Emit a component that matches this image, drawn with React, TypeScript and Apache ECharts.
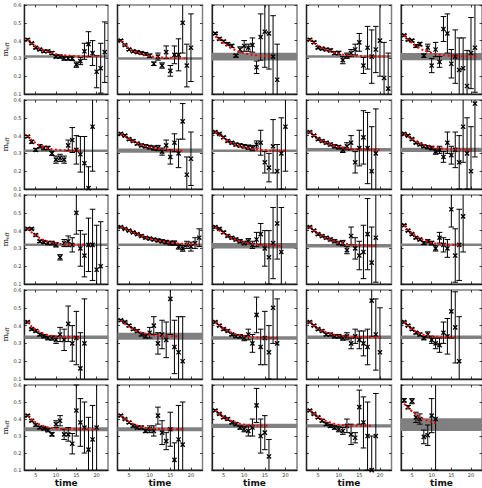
import React, { useEffect, useRef } from "react";
import * as echarts from "echarts";

const T_START = 3;
const X_MIN = 2.2;
const X_MAX = 22.8;
const X_TICKS = [5, 10, 15, 20];
const Y_TICKS = [0.1, 0.2, 0.3, 0.4, 0.5, 0.6];

// ---- row 0 ----
const p00Val = [0.405, 0.385, 0.36, 0.35, 0.34, 0.34, 0.33, 0.31, 0.31, 0.30, 0.30, 0.30, 0.265, 0.285, 0.34, 0.38, 0.33, 0.225, 0.245, 0.335];
const p00Err = [0.005, 0.005, 0.006, 0.006, 0.006, 0.007, 0.008, 0.008, 0.009, 0.01, 0.01, 0.012, 0.015, 0.02, 0.045, 0.07, 0.07, 0.09, 0.14, 0.17];
const p00Fit = [0.405, 0.385, 0.368, 0.355, 0.345, 0.337, 0.33, 0.325, 0.321, 0.318, 0.316, 0.314, 0.313, 0.312, 0.311, 0.311, 0.31, 0.31, 0.31];
const p00Band = [0.31, 0.004];

const p01Val = [0.40, 0.375, 0.35, 0.34, 0.335, 0.33, 0.325, 0.315, 0.27, 0.31, 0.26, 0.335, 0.23, 0.32, 0.32, 0.50, 0.26, 0.36];
const p01Err = [0.005, 0.005, 0.006, 0.006, 0.007, 0.007, 0.008, 0.01, 0.01, 0.02, 0.015, 0.035, 0.03, 0.05, 0.09, 0.17, 0.12, 0.19];
const p01Fit = [0.40, 0.375, 0.356, 0.342, 0.332, 0.324, 0.318, 0.313, 0.31, 0.307, 0.305, 0.304, 0.303, 0.302, 0.301, 0.301, 0.30];
const p01Band = [0.30, 0.004];

const p02Val = [0.44, 0.41, 0.395, 0.38, 0.37, 0.315, 0.35, 0.37, 0.36, 0.375, 0.25, 0.42, 0.45, 0.44, 0.31, 0.18];
const p02Err = [0.005, 0.006, 0.007, 0.008, 0.009, 0.008, 0.015, 0.03, 0.02, 0.04, 0.035, 0.13, 0.2, 0.2, 0.23, 0.2];
const p02Fit = [0.425, 0.405, 0.385, 0.37, 0.356, 0.345, 0.336, 0.329, 0.324, 0.32, 0.317, 0.315, 0.314, 0.313, 0.312];
const p02Band = [0.31, 0.022];

const p03Val = [0.405, 0.39, 0.36, 0.355, 0.35, 0.345, 0.33, 0.33, 0.29, 0.315, 0.33, 0.35, 0.39, 0.26, 0.36, 0.31, 0.35, 0.40, 0.19, 0.13];
const p03Err = [0.005, 0.006, 0.006, 0.007, 0.007, 0.008, 0.009, 0.01, 0.02, 0.015, 0.02, 0.03, 0.05, 0.045, 0.12, 0.15, 0.13, 0.2, 0.2, 0.2];
const p03Fit = [0.405, 0.385, 0.37, 0.358, 0.348, 0.34, 0.333, 0.327, 0.322, 0.319, 0.316, 0.314, 0.313, 0.312, 0.311, 0.31, 0.31, 0.31, 0.31, 0.31];
const p03Band = [0.31, 0.004];

const p04Val = [0.43, 0.405, 0.40, 0.37, 0.38, 0.315, 0.36, 0.26, 0.35, 0.28, 0.465, 0.44, 0.27, 0.31, 0.235, 0.245, 0.145, 0.33, 0.36];
const p04Err = [0.005, 0.006, 0.007, 0.008, 0.01, 0.01, 0.02, 0.04, 0.04, 0.03, 0.07, 0.11, 0.08, 0.15, 0.18, 0.17, 0.2, 0.2, 0.25];
const p04Fit = [0.43, 0.405, 0.385, 0.368, 0.355, 0.345, 0.337, 0.33, 0.325, 0.321, 0.318, 0.316, 0.315, 0.314, 0.313, 0.312, 0.312, 0.311, 0.311, 0.311];
const p04Band = [0.31, 0.02];

// ---- row 1 ----
const p10Val = [0.395, 0.365, 0.32, 0.34, 0.33, 0.33, 0.30, 0.265, 0.275, 0.265, 0.345, 0.375, 0.32, 0.295, 0.245, 0.105, 0.45];
const p10Err = [0.006, 0.008, 0.008, 0.01, 0.01, 0.01, 0.012, 0.02, 0.02, 0.02, 0.03, 0.07, 0.08, 0.1, 0.15, 0.12, 0.25];
const p10Fit = [0.40, 0.375, 0.358, 0.345, 0.336, 0.329, 0.324, 0.321, 0.319, 0.317, 0.316, 0.316, 0.315, 0.315];
const p10Band = [0.315, 0.004];

const p11Val = [0.41, 0.40, 0.38, 0.37, 0.355, 0.345, 0.34, 0.335, 0.33, 0.33, 0.31, 0.345, 0.28, 0.36, 0.30, 0.48, 0.18, 0.27];
const p11Err = [0.005, 0.005, 0.006, 0.006, 0.007, 0.008, 0.009, 0.01, 0.012, 0.015, 0.02, 0.03, 0.04, 0.05, 0.08, 0.1, 0.1, 0.15];
const p11Fit = [0.41, 0.395, 0.38, 0.368, 0.357, 0.348, 0.341, 0.335, 0.33, 0.326, 0.323, 0.321, 0.319, 0.318, 0.317, 0.316];
const p11Band = [0.315, 0.012];

const p12Val = [0.42, 0.41, 0.39, 0.37, 0.36, 0.35, 0.345, 0.34, 0.335, 0.33, 0.35, 0.36, 0.25, 0.22, 0.34, 0.20, 0.30, 0.45];
const p12Err = [0.005, 0.005, 0.006, 0.006, 0.007, 0.008, 0.009, 0.01, 0.012, 0.015, 0.02, 0.07, 0.06, 0.08, 0.15, 0.15, 0.2, 0.25];
const p12Fit = [0.42, 0.40, 0.385, 0.37, 0.358, 0.348, 0.34, 0.334, 0.329, 0.325, 0.322, 0.32, 0.318, 0.317, 0.316, 0.316, 0.315, 0.315];
const p12Band = [0.315, 0.006];

const p13Val = [0.42, 0.40, 0.38, 0.37, 0.36, 0.35, 0.34, 0.335, 0.32, 0.34, 0.36, 0.25, 0.33, 0.39, 0.33, 0.20, 0.30];
const p13Err = [0.005, 0.005, 0.006, 0.006, 0.007, 0.008, 0.009, 0.01, 0.015, 0.02, 0.04, 0.06, 0.1, 0.15, 0.2, 0.25, 0.25];
const p13Fit = [0.42, 0.40, 0.385, 0.37, 0.36, 0.35, 0.343, 0.337, 0.332, 0.329, 0.326, 0.324, 0.323, 0.322, 0.321, 0.32, 0.32, 0.32];
const p13Band = [0.32, 0.01];

const p14Val = [0.41, 0.40, 0.38, 0.36, 0.35, 0.34, 0.335, 0.33, 0.31, 0.32, 0.28, 0.36, 0.29, 0.32, 0.25, 0.45, 0.30, 0.20, 0.58];
const p14Err = [0.005, 0.005, 0.006, 0.006, 0.007, 0.008, 0.009, 0.01, 0.015, 0.02, 0.03, 0.06, 0.05, 0.1, 0.15, 0.2, 0.2, 0.25, 0.3];
const p14Fit = [0.41, 0.395, 0.38, 0.367, 0.356, 0.347, 0.34, 0.335, 0.331, 0.328, 0.326, 0.324, 0.323, 0.322, 0.321, 0.32, 0.32, 0.32];
const p14Band = [0.32, 0.012];

// ---- row 2 ----
const p20Val = [0.41, 0.41, 0.375, 0.34, 0.335, 0.33, 0.33, 0.32, 0.25, 0.33, 0.34, 0.32, 0.50, 0.30, 0.26, 0.32, 0.32, 0.18, 0.20];
const p20Err = [0.005, 0.005, 0.006, 0.007, 0.008, 0.009, 0.01, 0.012, 0.015, 0.02, 0.03, 0.04, 0.12, 0.1, 0.12, 0.15, 0.2, 0.25, 0.25];
const p20Fit = [0.41, 0.39, 0.372, 0.358, 0.347, 0.339, 0.333, 0.329, 0.326, 0.324, 0.322, 0.321, 0.32, 0.32, 0.32];
const p20Band = [0.32, 0.004];

const p21Val = [0.42, 0.41, 0.40, 0.39, 0.38, 0.37, 0.36, 0.355, 0.35, 0.345, 0.34, 0.335, 0.33, 0.33, 0.31, 0.30, 0.32, 0.31, 0.33, 0.36];
const p21Err = [0.004, 0.004, 0.005, 0.005, 0.005, 0.006, 0.006, 0.007, 0.007, 0.008, 0.009, 0.01, 0.011, 0.012, 0.014, 0.016, 0.02, 0.025, 0.03, 0.05];
const p21Fit = [0.42, 0.41, 0.40, 0.39, 0.38, 0.37, 0.362, 0.355, 0.349, 0.344, 0.34, 0.336, 0.333, 0.33, 0.328, 0.326, 0.325, 0.323, 0.322, 0.321];
const p21Band = [0.32, 0.003];

const p22Val = [0.42, 0.41, 0.39, 0.37, 0.36, 0.35, 0.34, 0.33, 0.34, 0.32, 0.35, 0.38, 0.30, 0.25, 0.33, 0.44, 0.28];
const p22Err = [0.005, 0.005, 0.006, 0.006, 0.007, 0.008, 0.009, 0.01, 0.015, 0.02, 0.04, 0.06, 0.1, 0.15, 0.2, 0.2, 0.25];
const p22Fit = [0.42, 0.40, 0.385, 0.37, 0.358, 0.348, 0.34, 0.334, 0.329, 0.325, 0.322, 0.32, 0.318, 0.317, 0.316, 0.315, 0.315];
const p22Band = [0.315, 0.015];

const p23Val = [0.42, 0.40, 0.38, 0.37, 0.36, 0.35, 0.34, 0.33, 0.33, 0.29, 0.37, 0.30, 0.26, 0.28, 0.38, 0.22, 0.36];
const p23Err = [0.005, 0.005, 0.006, 0.006, 0.007, 0.008, 0.009, 0.01, 0.015, 0.02, 0.05, 0.06, 0.08, 0.15, 0.2, 0.2, 0.25];
const p23Fit = [0.42, 0.40, 0.385, 0.37, 0.358, 0.348, 0.34, 0.334, 0.329, 0.325, 0.322, 0.32, 0.318, 0.317, 0.316, 0.315, 0.315];
const p23Band = [0.315, 0.01];

const p24Val = [0.43, 0.40, 0.38, 0.36, 0.35, 0.33, 0.34, 0.33, 0.30, 0.36, 0.32, 0.30, 0.52, 0.26, 0.32, 0.48];
const p24Err = [0.005, 0.005, 0.006, 0.006, 0.007, 0.008, 0.009, 0.01, 0.015, 0.03, 0.04, 0.05, 0.1, 0.15, 0.2, 0.2];
const p24Fit = [0.43, 0.405, 0.385, 0.368, 0.355, 0.345, 0.337, 0.331, 0.327, 0.324, 0.322, 0.321, 0.32, 0.32, 0.32];
const p24Band = [0.32, 0.004];

// ---- row 3 ----
const p30Val = [0.42, 0.38, 0.37, 0.35, 0.34, 0.33, 0.33, 0.32, 0.35, 0.32, 0.41, 0.30, 0.33, 0.16, 0.30];
const p30Err = [0.005, 0.006, 0.007, 0.008, 0.009, 0.01, 0.012, 0.02, 0.04, 0.06, 0.1, 0.1, 0.15, 0.2, 0.25];
const p30Fit = [0.42, 0.395, 0.377, 0.364, 0.354, 0.347, 0.342, 0.339, 0.337, 0.336, 0.335, 0.335, 0.335, 0.335];
const p30Band = [0.335, 0.01];

const p31Val = [0.43, 0.42, 0.40, 0.38, 0.37, 0.35, 0.34, 0.36, 0.40, 0.30, 0.35, 0.32, 0.55, 0.28, 0.25, 0.20];
const p31Err = [0.005, 0.005, 0.006, 0.006, 0.007, 0.008, 0.01, 0.03, 0.05, 0.06, 0.08, 0.1, 0.2, 0.15, 0.2, 0.25];
const p31Fit = [0.43, 0.41, 0.393, 0.379, 0.368, 0.36, 0.354, 0.349, 0.346, 0.344, 0.342, 0.341, 0.341, 0.34, 0.34];
const p31Band = [0.34, 0.02];

const p32Val = [0.42, 0.40, 0.38, 0.37, 0.35, 0.34, 0.34, 0.33, 0.35, 0.30, 0.46, 0.28, 0.33, 0.25, 0.50, 0.30];
const p32Err = [0.005, 0.005, 0.006, 0.006, 0.007, 0.008, 0.01, 0.015, 0.03, 0.05, 0.1, 0.1, 0.15, 0.15, 0.2, 0.25];
const p32Fit = [0.42, 0.40, 0.384, 0.371, 0.36, 0.352, 0.346, 0.341, 0.338, 0.335, 0.333, 0.332, 0.331, 0.33, 0.33, 0.33];
const p32Band = [0.33, 0.01];

const p33Val = [0.42, 0.40, 0.38, 0.37, 0.35, 0.35, 0.34, 0.34, 0.33, 0.34, 0.30, 0.34, 0.32, 0.30, 0.28, 0.54, 0.35, 0.25];
const p33Err = [0.005, 0.005, 0.006, 0.006, 0.007, 0.008, 0.009, 0.01, 0.012, 0.02, 0.03, 0.04, 0.05, 0.07, 0.1, 0.2, 0.2, 0.25];
const p33Fit = [0.42, 0.40, 0.385, 0.372, 0.362, 0.354, 0.348, 0.344, 0.341, 0.339, 0.337, 0.336, 0.336, 0.335, 0.335, 0.335, 0.335, 0.335];
const p33Band = [0.335, 0.01];

const p34Val = [0.42, 0.40, 0.38, 0.36, 0.35, 0.33, 0.35, 0.32, 0.30, 0.29, 0.36, 0.34, 0.48, 0.39, 0.20];
const p34Err = [0.005, 0.005, 0.006, 0.007, 0.008, 0.01, 0.015, 0.02, 0.03, 0.04, 0.06, 0.1, 0.15, 0.2, 0.25];
const p34Fit = [0.42, 0.398, 0.38, 0.366, 0.356, 0.348, 0.343, 0.34, 0.338, 0.336, 0.336, 0.335, 0.335, 0.335];
const p34Band = [0.335, 0.01];

// ---- row 4 ----
const p40Val = [0.42, 0.39, 0.365, 0.35, 0.345, 0.335, 0.31, 0.37, 0.39, 0.31, 0.31, 0.255, 0.45, 0.38, 0.35, 0.22, 0.28, 0.35];
const p40Err = [0.005, 0.006, 0.007, 0.008, 0.009, 0.01, 0.01, 0.02, 0.03, 0.03, 0.04, 0.06, 0.15, 0.14, 0.15, 0.19, 0.2, 0.5];
const p40Fit = [0.42, 0.398, 0.38, 0.367, 0.358, 0.351, 0.347, 0.344, 0.342, 0.341, 0.34, 0.34, 0.34, 0.34, 0.34, 0.34, 0.34, 0.34];
const p40Band = [0.34, 0.012];

const p41Val = [0.42, 0.40, 0.38, 0.36, 0.35, 0.35, 0.33, 0.34, 0.33, 0.42, 0.32, 0.27, 0.34, 0.16, 0.28, 0.25];
const p41Err = [0.005, 0.005, 0.006, 0.007, 0.008, 0.009, 0.01, 0.02, 0.03, 0.05, 0.07, 0.05, 0.1, 0.1, 0.2, 0.25];
const p41Fit = [0.42, 0.40, 0.384, 0.371, 0.361, 0.354, 0.349, 0.345, 0.343, 0.342, 0.341, 0.34, 0.34, 0.34, 0.34, 0.34];
const p41Band = [0.34, 0.012];

const p42Val = [0.45, 0.43, 0.41, 0.40, 0.38, 0.37, 0.35, 0.34, 0.33, 0.35, 0.48, 0.30, 0.32, 0.18];
const p42Err = [0.005, 0.005, 0.006, 0.007, 0.008, 0.009, 0.01, 0.015, 0.03, 0.05, 0.1, 0.1, 0.1, 0.1];
const p42Fit = [0.45, 0.43, 0.413, 0.399, 0.388, 0.379, 0.372, 0.367, 0.364, 0.362, 0.361, 0.36, 0.36, 0.36];
const p42Band = [0.36, 0.012];

const p43Val = [0.45, 0.43, 0.41, 0.39, 0.37, 0.36, 0.35, 0.34, 0.33, 0.36, 0.31, 0.29, 0.47, 0.38, 0.30, 0.10, 0.30];
const p43Err = [0.005, 0.005, 0.006, 0.007, 0.008, 0.009, 0.01, 0.015, 0.02, 0.04, 0.06, 0.03, 0.1, 0.15, 0.2, 0.2, 0.25];
const p43Fit = [0.45, 0.43, 0.413, 0.399, 0.388, 0.379, 0.372, 0.367, 0.364, 0.362, 0.361, 0.36, 0.36, 0.36, 0.36, 0.36];
const p43Band = [0.36, 0.01];

const p44Val = [0.51, 0.47, 0.505, 0.41, 0.40, 0.295, 0.305, 0.42, 0.40];
const p44Err = [0.01, 0.01, 0.015, 0.03, 0.03, 0.04, 0.06, 0.1, 0.3];
const p44Fit = [0.49, 0.465, 0.445, 0.427, 0.412, 0.40, 0.39, 0.382, 0.375];
const p44Band = [0.367, 0.037];

const PANELS = [
  { val: p00Val, err: p00Err, fit: p00Fit, band: p00Band },
  { val: p01Val, err: p01Err, fit: p01Fit, band: p01Band },
  { val: p02Val, err: p02Err, fit: p02Fit, band: p02Band },
  { val: p03Val, err: p03Err, fit: p03Fit, band: p03Band },
  { val: p04Val, err: p04Err, fit: p04Fit, band: p04Band },
  { val: p10Val, err: p10Err, fit: p10Fit, band: p10Band },
  { val: p11Val, err: p11Err, fit: p11Fit, band: p11Band },
  { val: p12Val, err: p12Err, fit: p12Fit, band: p12Band },
  { val: p13Val, err: p13Err, fit: p13Fit, band: p13Band },
  { val: p14Val, err: p14Err, fit: p14Fit, band: p14Band },
  { val: p20Val, err: p20Err, fit: p20Fit, band: p20Band },
  { val: p21Val, err: p21Err, fit: p21Fit, band: p21Band },
  { val: p22Val, err: p22Err, fit: p22Fit, band: p22Band },
  { val: p23Val, err: p23Err, fit: p23Fit, band: p23Band },
  { val: p24Val, err: p24Err, fit: p24Fit, band: p24Band },
  { val: p30Val, err: p30Err, fit: p30Fit, band: p30Band },
  { val: p31Val, err: p31Err, fit: p31Fit, band: p31Band },
  { val: p32Val, err: p32Err, fit: p32Fit, band: p32Band },
  { val: p33Val, err: p33Err, fit: p33Fit, band: p33Band },
  { val: p34Val, err: p34Err, fit: p34Fit, band: p34Band },
  { val: p40Val, err: p40Err, fit: p40Fit, band: p40Band },
  { val: p41Val, err: p41Err, fit: p41Fit, band: p41Band },
  { val: p42Val, err: p42Err, fit: p42Fit, band: p42Band },
  { val: p43Val, err: p43Err, fit: p43Fit, band: p43Band },
  { val: p44Val, err: p44Err, fit: p44Fit, band: p44Band },
];

function renderBand(params: any, api: any) {
  const cs = params.coordSys;
  const c = api.value(0);
  const h = api.value(1);
  const y1 = api.coord([X_MIN, c + h])[1];
  const y2 = api.coord([X_MIN, c - h])[1];
  let top = Math.max(Math.min(y1, y2), cs.y);
  let hh = Math.abs(y2 - y1);
  if (hh < 2.5) {
    top = (y1 + y2) / 2 - 1.25;
    hh = 2.5;
  }
  return {
    type: "rect",
    shape: { x: cs.x, y: top, width: cs.width, height: hh },
    style: { fill: "#808080" },
    silent: true,
  };
}

function renderPoint(params: any, api: any) {
  const cs = params.coordSys;
  const t = api.value(0);
  const v = api.value(1);
  const e = api.value(2);
  const p = api.coord([t, v]);
  const yHi = api.coord([t, v + e])[1];
  const yLo = api.coord([t, v - e])[1];
  const top = cs.y;
  const bot = cs.y + cs.height;
  const x = p[0];
  const children: any[] = [];
  const st = { stroke: "#000", lineWidth: 1 };
  const a = Math.max(yHi, top);
  const b = Math.min(yLo, bot);
  if (b > a) {
    children.push({ type: "line", shape: { x1: x, y1: a, x2: x, y2: b }, style: st });
  }
  const cw = 2.8;
  if (yHi >= top && yHi <= bot) {
    children.push({ type: "line", shape: { x1: x - cw, y1: yHi, x2: x + cw, y2: yHi }, style: st });
  }
  if (yLo <= bot && yLo >= top) {
    children.push({ type: "line", shape: { x1: x - cw, y1: yLo, x2: x + cw, y2: yLo }, style: st });
  }
  if (p[1] >= top && p[1] <= bot) {
    const s = 2.1;
    const ms = { stroke: "#000", lineWidth: 1.3 };
    children.push({ type: "line", shape: { x1: x - s, y1: p[1] - s, x2: x + s, y2: p[1] + s }, style: ms });
    children.push({ type: "line", shape: { x1: x - s, y1: p[1] + s, x2: x + s, y2: p[1] - s }, style: ms });
  }
  return { type: "group", children, silent: true };
}

export default function App() {
  const ref = useRef<HTMLDivElement>(null);
  useEffect(() => {
    if (!ref.current) return;
    const chart = echarts.init(ref.current, null, { renderer: "svg" });
    const grid: any[] = [];
    const xAxis: any[] = [];
    const yAxis: any[] = [];
    const series: any[] = [];
    PANELS.forEach((pnl, k) => {
      const row = Math.floor(k / 5);
      const col = k % 5;
      grid.push({
        left: 23 + col * 94.5,
        top: 5 + row * 95,
        width: 85,
        height: 89,
        show: true,
        borderColor: "#808080",
        borderWidth: 1.5,
        backgroundColor: "transparent",
      });
      const tickStyle = { color: "#111", width: 0.8 };
      xAxis.push({
        gridIndex: k,
        type: "value",
        min: X_MIN,
        max: X_MAX,
        position: "bottom",
        axisLine: { show: true, onZero: false, lineStyle: { color: "#222", width: 1.3 } },
        axisTick: { show: true, inside: true, length: 2.5, customValues: X_TICKS, lineStyle: tickStyle },
        axisLabel: { show: row === 4, customValues: X_TICKS, fontSize: 5, color: "#333", margin: 2, fontFamily: "DejaVu Sans" },
        splitLine: { show: false },
        name: row === 4 ? "time" : "",
        nameLocation: "middle",
        nameGap: 6,
        nameTextStyle: { fontWeight: "bold", fontSize: 9, fontFamily: "DejaVu Sans", color: "#111" },
      });
      xAxis.push({
        gridIndex: k,
        type: "value",
        min: X_MIN,
        max: X_MAX,
        position: "top",
        axisLine: { show: false },
        axisTick: { show: true, inside: true, length: 2.5, customValues: X_TICKS, lineStyle: tickStyle },
        axisLabel: { show: false },
        splitLine: { show: false },
      });
      yAxis.push({
        gridIndex: k,
        type: "value",
        min: 0.1,
        max: 0.6,
        position: "left",
        axisLine: { show: true, onZero: false, lineStyle: { color: "#222", width: 1.3 } },
        axisTick: { show: true, inside: true, length: 2.5, customValues: Y_TICKS, lineStyle: tickStyle },
        axisLabel: {
          show: col === 0,
          customValues: Y_TICKS,
          fontSize: 5,
          color: "#333",
          margin: 3,
          fontFamily: "DejaVu Sans",
          formatter: (v: number) => v.toFixed(1),
        },
        splitLine: { show: false },
        name: col === 0 ? "{m|m}{s|eff}" : "",
        nameLocation: "middle",
        nameGap: 12,
        nameRotate: 90,
        nameTextStyle: {
          rich: {
            m: { fontFamily: "DejaVu Serif", fontSize: 8, color: "#111" },
            s: { fontFamily: "DejaVu Serif", fontSize: 5, color: "#111", padding: [4, 0, 0, 0] },
          },
        },
      });
      yAxis.push({
        gridIndex: k,
        type: "value",
        min: 0.1,
        max: 0.6,
        position: "right",
        axisLine: { show: false },
        axisTick: { show: true, inside: true, length: 2.5, customValues: Y_TICKS, lineStyle: tickStyle },
        axisLabel: { show: false },
        splitLine: { show: false },
      });
      const xi = 2 * k;
      series.push({
        type: "custom",
        xAxisIndex: xi,
        yAxisIndex: xi,
        data: [[pnl.band[0], pnl.band[1]]],
        encode: { x: -1, y: 0 },
        renderItem: renderBand,
        z: 1,
        silent: true,
      });
      series.push({
        type: "custom",
        xAxisIndex: xi,
        yAxisIndex: xi,
        data: pnl.val.map((v, i) => [T_START + i, v, pnl.err[i]]),
        encode: { x: 0, y: 1 },
        renderItem: renderPoint,
        z: 2,
        silent: true,
      });
      series.push({
        type: "line",
        xAxisIndex: xi,
        yAxisIndex: xi,
        data: pnl.fit.map((v, i) => [T_START + i, v]),
        showSymbol: false,
        symbol: "none",
        lineStyle: { color: "#ff0000", width: 2, type: [2, 2.5] },
        z: 3,
        silent: true,
      });
    });
    chart.setOption({
      animation: false,
      grid,
      xAxis,
      yAxis,
      series,
    });
    return () => chart.dispose();
  }, []);
  return (
    <div
      ref={ref}
      style={{ position: "absolute", left: 0, top: 0, width: 482, height: 488, background: "#fff" }}
    />
  );
}
